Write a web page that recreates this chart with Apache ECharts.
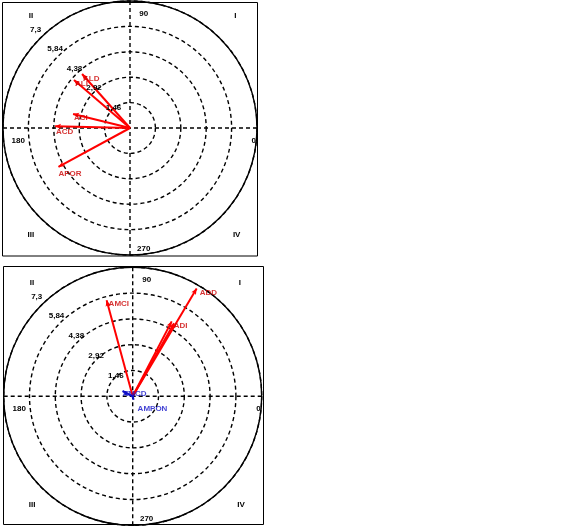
<!DOCTYPE html>
<html>
<head>
<meta charset="utf-8">
<script src="https://cdn.jsdelivr.net/npm/echarts@6/dist/echarts.min.js"></script>
<style>
  html, body { margin: 0; padding: 0; background: #fff; }
  #chart { width: 571px; height: 529px; }
</style>
</head>
<body>
<div id="chart"></div>
<script>
// Radial scale ticks shared by both diagrams
const radialTicks = [1.46, 2.92, 4.38, 5.84, 7.3];
const radialMax = 7.3;
const angleTicks = ['0', '90', '180', '270'];
const quadrantNames = ['I', 'II', 'III', 'IV'];

// Upper diagram: vector names, lengths, directions (degrees)
const topNames = ['ALD', 'ALI', 'ACI', 'ACD', 'APOR'];
const topLengths = [4.15, 4.24, 3.37, 4.31, 4.68];
const topAngles = [131.6, 139.4, 166.2, 178.7, 208.5];

// Lower diagram: red vectors
const bottomNames = ['AMCI', 'ADD', 'ADI', ''];
const bottomLengths = [5.63, 7.09, 4.78, 4.75];
const bottomAngles = [105.2, 59.3, 62.5, 60.5];

// Lower diagram: blue vectors
const blueNames = ['AMCD', 'AMPON'];
const blueLengths = [0.65, 0.2];
const blueAngles = [152.5, 285];

const RED = '#ff0000';
const RED_TEXT = '#cc0000';
const BLUE = '#1010c8';
const FONT = 'Liberation Sans, Arial, sans-serif';

// Panel geometry
const panels = [
  { center: [130, 128], radius: 127, frame: [2.5, 2.5, 255, 253.5] },
  { center: [132.7, 396.3], radius: 129, frame: [3.5, 266.5, 260, 258] }
];

// Label nudges (pixels) for vector names
const topLabelOffsets = [[1, 5], [1, 4], [1, 4], [1, 5], [0, 7]];
const bottomLabelOffsets = [[2, 4], [3, 4], [2, 4], [0, 0]];
const blueLabelOffsets = [[0, 3], [4, 9]];

const chart = echarts.init(document.getElementById('chart'), null, { renderer: 'canvas' });

function angleAxis(i) {
  return {
    polarIndex: i, type: 'value', min: 0, max: 360, interval: 90,
    startAngle: 0, clockwise: false,
    axisLine: { show: true, lineStyle: { color: '#000', width: 1.4 } },
    axisTick: { show: false }, axisLabel: { show: false },
    splitLine: { show: true, lineStyle: { color: '#000', width: 1.4, type: [4, 3] } }
  };
}
function radiusAxis(i) {
  return {
    polarIndex: i, type: 'value', min: 0, max: radialMax, interval: 1.46,
    axisLine: { show: false }, axisTick: { show: false }, axisLabel: { show: false },
    splitLine: { show: true, lineStyle: { color: '#000', width: 1.4, type: [4, 3] } }
  };
}

function vectorSeries(polarIndex, r, a, color, width) {
  return {
    type: 'line', coordinateSystem: 'polar', polarIndex: polarIndex,
    silent: true, animation: false, showSymbol: true, z: 5,
    lineStyle: { color: color, width: width },
    itemStyle: { color: color },
    data: [
      { value: [0, a], symbol: 'none' },
      { value: [r, a], symbol: 'arrow', symbolSize: [4, 6], symbolRotate: a - 90 }
    ]
  };
}

function labelSeries(polarIndex, names, lengths, angles, offsets, color) {
  return {
    type: 'scatter', coordinateSystem: 'polar', polarIndex: polarIndex,
    silent: true, animation: false, symbolSize: 0, z: 6,
    data: names.map((n, k) => ({
      name: n, value: [lengths[k], angles[k]],
      label: { offset: offsets[k] }
    })),
    label: {
      show: true, position: 'right', distance: 0, formatter: '{b}',
      color: color, fontSize: 8, fontWeight: 'bold', fontFamily: FONT
    }
  };
}

function tickLabelSeries(polarIndex) {
  return {
    type: 'custom', coordinateSystem: 'polar', polarIndex: polarIndex,
    silent: true, animation: false, z: 7,
    data: radialTicks.map(t => [t, 135]),
    renderItem: function (params, api) {
      const t = api.value(0);
      const p = api.coord([t, 135]);
      const c = api.coord([0, 135]);
      return {
        type: 'text',
        x: c[0] + (p[0] - c[0]) * 1.085 + 3,
        y: c[1] + (p[1] - c[1]) * 1.085 - 1,
        style: {
          text: String(t).replace('.', ','),
          fill: '#000', font: 'bold 8px ' + FONT,
          textAlign: 'center', textVerticalAlign: 'middle'
        }
      };
    }
  };
}

// Angle and quadrant captions placed relative to each panel's centre
function panelText(p) {
  const [cx, cy] = p.center, R = p.radius;
  const angPos = [[0.975, 0.1], [0.108, -0.9], [-0.88, 0.1], [0.108, 0.95]];
  const quadPos = [[0.83, -0.88], [-0.78, -0.88], [-0.78, 0.84], [0.84, 0.84]];
  const out = [];
  angleTicks.forEach((s, k) => out.push({
    type: 'text', x: cx + angPos[k][0] * R, y: cy + angPos[k][1] * R, z: 10,
    style: { text: s, fill: '#000', font: 'bold 8px ' + FONT, textAlign: 'center', textVerticalAlign: 'middle' }
  }));
  quadrantNames.forEach((s, k) => out.push({
    type: 'text', x: cx + quadPos[k][0] * R, y: cy + quadPos[k][1] * R, z: 10,
    style: { text: s, fill: '#000', font: 'bold 8px ' + FONT, textAlign: 'center', textVerticalAlign: 'middle' }
  }));
  out.push({
    type: 'rect', z: 10,
    shape: { x: p.frame[0], y: p.frame[1], width: p.frame[2], height: p.frame[3] },
    style: { fill: 'none', stroke: '#000', lineWidth: 1 }
  });
  return out;
}

const series = [];
topNames.forEach((n, k) => series.push(vectorSeries(0, topLengths[k], topAngles[k], RED, 2)));
bottomNames.forEach((n, k) => series.push(vectorSeries(1, bottomLengths[k], bottomAngles[k], RED, 2)));
blueNames.forEach((n, k) => series.push(vectorSeries(1, blueLengths[k], blueAngles[k], BLUE, 2)));
series.push(labelSeries(0, topNames, topLengths, topAngles, topLabelOffsets, RED_TEXT));
series.push(labelSeries(1, bottomNames, bottomLengths, bottomAngles, bottomLabelOffsets, RED_TEXT));
series.push(labelSeries(1, blueNames, blueLengths, blueAngles, blueLabelOffsets, BLUE));
series.push(tickLabelSeries(0));
series.push(tickLabelSeries(1));

chart.setOption({
  backgroundColor: '#fff',
  animation: false,
  polar: panels.map(p => ({ center: p.center, radius: p.radius })),
  angleAxis: [angleAxis(0), angleAxis(1)],
  radiusAxis: [radiusAxis(0), radiusAxis(1)],
  graphic: panelText(panels[0]).concat(panelText(panels[1])),
  series: series
});
</script>
</body>
</html>
